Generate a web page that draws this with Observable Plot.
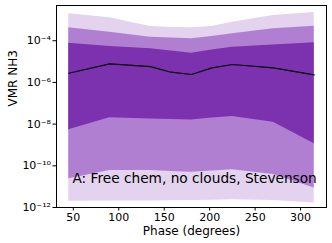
<!DOCTYPE html>
<html><head><meta charset="utf-8">
<script src="https://cdn.jsdelivr.net/npm/d3@7"></script>
<script src="https://cdn.jsdelivr.net/npm/@observablehq/plot@0.6"></script>
<style>body{margin:0;background:#fff}</style>
</head><body><div id="chart"></div>
<script>
const phases = [45, 90, 135, 157.5, 180, 202.5, 225, 270, 315];
// log10 VMR values
const median   = [-5.56, -5.11, -5.24, -5.51, -5.62, -5.30, -5.14, -5.30, -5.64];
const outerHi  = [-2.71, -2.90, -3.32, -3.37, -3.38, -3.32, -3.11, -2.79, -2.65];
const midHi    = [-3.38, -3.59, -3.83, -3.87, -3.91, -3.80, -3.67, -3.43, -3.30];
const innerHi  = [-4.12, -4.28, -4.39, -4.49, -4.60, -4.45, -4.31, -4.20, -4.10];
const innerLo  = [-8.27, -7.70, -7.75, -7.78, -7.80, -7.71, -7.64, -7.91, -8.94];
const midLo    = [-10.62, -10.23, -10.23, -10.27, -10.31, -10.25, -10.19, -10.42, -11.06];
const outerLo  = [-11.70, -11.69, -11.69, -11.68, -11.66, -11.65, -11.63, -11.66, -11.79];
const yTicks = [-4, -6, -8, -10, -12];
const xTicks = [50, 100, 150, 200, 250, 300];
const annotation = "A: Free chem, no clouds, Stevenson";
const xLabel = "Phase (degrees)";
const yLabel = "VMR NH3";

const rows = phases.map((p, i) => ({
  p,
  med: 10 ** median[i],
  oHi: 10 ** outerHi[i], oLo: 10 ** outerLo[i],
  mHi: 10 ** midHi[i], mLo: 10 ** midLo[i],
  iHi: 10 ** innerHi[i], iLo: 10 ** innerLo[i]
}));

const sup = s => String(s).split("").map(c => ({"-":"⁻","0":"⁰","1":"¹","2":"²","3":"³","4":"⁴","5":"⁵","6":"⁶","7":"⁷","8":"⁸","9":"⁹"}[c])).join("");

const chart = Plot.plot({
  width: 332,
  height: 243,
  marginLeft: 56,
  marginRight: 6,
  marginTop: 5,
  marginBottom: 36,
  style: {fontFamily: "DejaVu Sans", fontSize: "11px", color: "#000", background: "#fff"},
  x: {domain: [31.5, 328.5]},
  y: {type: "log", domain: [1e-12, 10 ** -2.31]},
  marks: [
    Plot.areaY(rows, {x: "p", y1: "oLo", y2: "oHi", fill: "#e3d3ee"}),
    Plot.areaY(rows, {x: "p", y1: "mLo", y2: "mHi", fill: "#b17fd2"}),
    Plot.areaY(rows, {x: "p", y1: "iLo", y2: "iHi", fill: "#7c31ae"}),
    Plot.line(rows, {x: "p", y: "med", stroke: "#000", strokeWidth: 1.2}),
    Plot.text([annotation], {text: d => d, frameAnchor: "bottom-left", dx: 16, dy: -25, textAnchor: "start", fontSize: 13.7, fill: "#000"}),
    Plot.frame({stroke: "#000", strokeWidth: 1}),
    Plot.axisX({ticks: xTicks, tickSize: 3.5, tickPadding: 2, fontSize: 11, label: null}),
    Plot.axisY({ticks: yTicks.map(t => 10 ** t), tickFormat: d => "10" + sup(Math.round(Math.log10(d))), tickSize: 3.5, tickPadding: 2, fontSize: 11, label: null}),
    Plot.text([xLabel], {text: d => d, frameAnchor: "bottom", dy: 27, fontSize: 12, fill: "#000"}),
    Plot.text([yLabel], {text: d => d, frameAnchor: "left", dx: -43, rotate: -90, fontSize: 12, fill: "#000"})
  ]
});
document.getElementById("chart").appendChild(chart);
</script>
</body></html>
